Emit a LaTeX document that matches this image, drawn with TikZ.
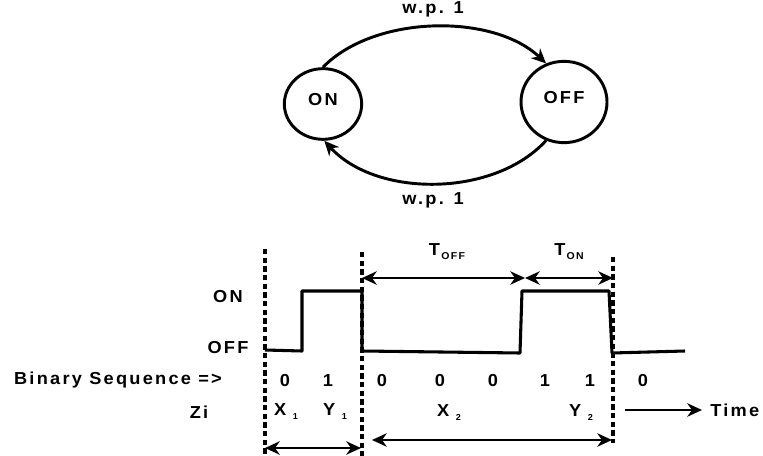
\documentclass[tikz,border=0pt]{standalone}
\usepackage{fontspec}
\setmainfont{Liberation Sans}[FakeStretch=1.05,LetterSpace=13]
\usetikzlibrary{arrows.meta,shapes.geometric}

\newcommand{\tsub}[1]{\kern1pt\raisebox{-3pt}{\fontsize{7.5}{8}\selectfont #1}}
\newcommand{\zsub}[1]{\kern5pt\raisebox{-3pt}{\fontsize{6.5}{7}\selectfont #1}}

\tikzset{
  lbl/.style={font=\bfseries\fontsize{13}{15}\selectfont, inner sep=0pt},
  state/.style={draw, ellipse, line width=2.2, inner sep=0pt, text depth=7pt,
                font=\bfseries\fontsize{13}{15}\selectfont},
  arr/.style={line width=2.2, -{Stealth[length=11pt,width=10pt,inset=3.5pt]}},
  darr/.style={line width=2.2, {Stealth[length=11pt,width=10pt,inset=3.5pt]}-{Stealth[length=11pt,width=10pt,inset=3.5pt]}},
  vdash/.style={line width=2.4, dash pattern=on 4pt off 2.5pt},
  wave/.style={line width=2.3, line join=round}
}

\begin{document}
\begin{tikzpicture}[x=0.75pt,y=0.75pt,yscale=-1]
\useasboundingbox (0,0) rectangle (763,456);

%Shape: States
\node[state, minimum width=58pt, minimum height=53pt] (on) at (323,104) {ON};
\node[state, minimum width=64.5pt, minimum height=61pt] (off) at (564,102) {OFF};

%Curve Lines
\draw[arr] (on.90) .. controls +(52,-53) and +(-52,-50) .. (off.115);
\draw[arr] (off.245) .. controls +(-52,57) and +(52,57) .. (on.272);
\node[lbl] (wp1) at (433,9) {w.p. 1};
\node[lbl] (wp2) at (433,200) {w.p. 1};

%Dashed Lines
\draw[vdash] (265,249) -- (265,456);
\draw[vdash] (362,252) -- (362,456);
\draw[vdash] (613,257) -- (613,443);

%Wave
\node[lbl] (lon) at (228,297) {ON};
\node[lbl] (loff) at (228,348) {OFF};
\draw[wave] (265,350) -- (302,351) -- (302,291) -- (362,291) -- (362,351) -- (520,353)
  -- (522,291) -- (609,291) -- (612,353) -- (685,351);

%Durations
\coordinate (toffL) at (362,278);
\coordinate (toffR) at (525,278);
\coordinate (tonR) at (613,278);
\draw[darr] (toffL) -- (toffR);
\draw[darr] (toffR) -- (tonR);
\node[lbl] (toff) at (447,252) {T\tsub{OFF}};
\node[lbl] (ton) at (569,252) {T\tsub{ON}};

%Binary sequence
\node[lbl] (bseq) at (118,380) {Binary Sequence =>};
\foreach \x/\b in {285/0,328/1,382/0,440/0,493/0,545/1,590/1,643/0}
  \node[lbl] (b\x) at (\x,381) {\b};

%Zi
\node[lbl] (zi) at (199,412) {Zi};
\node[lbl] (x1) at (286,412) {X\zsub{1}};
\node[lbl] (y1) at (335,412) {Y\zsub{1}};
\node[lbl] (x2) at (449,413) {X\zsub{2}};
\node[lbl] (y2) at (581,413) {Y\zsub{2}};

%Time
\coordinate (tstart) at (625,410);
\node[lbl, anchor=west] (time) at (710,410) {Time};
\draw[arr, shorten >=6pt] (tstart) -- (time.west);

%Cycles
\coordinate (z1L) at (265,448);
\coordinate (z1R) at (361,448);
\coordinate (z2L) at (372,440);
\coordinate (z2R) at (612,440);
\draw[darr] (z1L) -- (z1R);
\draw[darr] (z2L) -- (z2R);

\end{tikzpicture}
\end{document}
